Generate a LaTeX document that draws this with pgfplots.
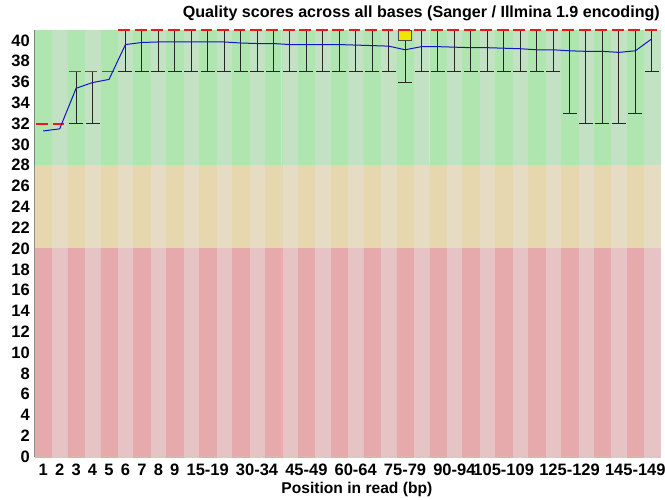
\documentclass[border=0pt]{standalone}
\usepackage{fontspec}
\setmainfont{Liberation Sans}
\usepackage{pgfplots}
\pgfplotsset{compat=1.18}
\definecolor{gd}{RGB}{175,230,175}
\definecolor{gl}{RGB}{195,225,195}
\definecolor{od}{RGB}{230,215,175}
\definecolor{ol}{RGB}{230,220,195}
\definecolor{rd}{RGB}{230,170,172}
\definecolor{rl}{RGB}{230,195,197}
\definecolor{meanblue}{RGB}{20,20,200}
\definecolor{medred}{RGB}{235,25,25}
\definecolor{boxyellow}{RGB}{240,230,0}
\definecolor{axisgray}{RGB}{120,120,120}
\begin{document}
\begin{tikzpicture}
\useasboundingbox (-35bp,-43.3bp) rectangle (630bp,456.7bp);
\begin{axis}[
  scale only axis, width=625bp, height=426.7bp,
  xmin=0.5, xmax=38.5, ymin=0, ymax=41,
  axis lines=left, axis line style={-, draw=axisgray, line width=1.2bp},
  clip=false, unbounded coords=jump,
  major tick length=0pt,
  xtick={1,2,3,4,5,6,7,8,9,11,14,17,20,23,26,29,33,37},
  xticklabels={1,2,3,4,5,6,7,8,9,15-19,30-34,45-49,60-64,75-79,90-94,105-109,125-129,145-149},
  ytick={0,2,...,40},
  /pgf/number format/assume math mode=true,
  ticklabel style={font=\fontsize{16.5bp}{19bp}\selectfont\bfseries},
  yticklabel style={anchor=east, inner sep=0pt, xshift=-5bp},
  xticklabel style={anchor=north, inner sep=0pt, yshift=-7bp},
  title={Quality scores across all bases (Sanger / Illmina 1.9 encoding)},
  title style={at={(axis description cs:1,1)}, anchor=base east, inner sep=0pt, yshift=7bp, font=\fontsize{16.1bp}{19bp}\selectfont\bfseries},
  xlabel={Position in read (bp)},
  xlabel style={at={(axis description cs:0.515,0)}, anchor=base, inner sep=0pt, yshift=-36.5bp, font=\fontsize{15.6bp}{18bp}\selectfont\bfseries},
]
% background stripes
\addplot[ybar, bar width=1, bar shift=0pt, fill=gl, draw=gl, line width=0.4bp] coordinates {(2,41)(4,41)(6,41)(8,41)(10,41)(12,41)(14,41)(16,41)(18,41)(20,41)(22,41)(24,41)(26,41)(28,41)(30,41)(32,41)(34,41)(36,41)(38,41)};
\addplot[ybar, bar width=1, bar shift=0pt, fill=gd, draw=gd, line width=0.4bp] coordinates {(1,41)(3,41)(5,41)(7,41)(9,41)(11,41)(13,41)(15,41)(17,41)(19,41)(21,41)(23,41)(25,41)(27,41)(29,41)(31,41)(33,41)(35,41)(37,41)};
\addplot[ybar, bar width=1, bar shift=0pt, fill=ol, draw=ol, line width=0.4bp] coordinates {(2,28)(4,28)(6,28)(8,28)(10,28)(12,28)(14,28)(16,28)(18,28)(20,28)(22,28)(24,28)(26,28)(28,28)(30,28)(32,28)(34,28)(36,28)(38,28)};
\addplot[ybar, bar width=1, bar shift=0pt, fill=od, draw=od, line width=0.4bp] coordinates {(1,28)(3,28)(5,28)(7,28)(9,28)(11,28)(13,28)(15,28)(17,28)(19,28)(21,28)(23,28)(25,28)(27,28)(29,28)(31,28)(33,28)(35,28)(37,28)};
\addplot[ybar, bar width=1, bar shift=0pt, fill=rl, draw=rl, line width=0.4bp] coordinates {(2,20)(4,20)(6,20)(8,20)(10,20)(12,20)(14,20)(16,20)(18,20)(20,20)(22,20)(24,20)(26,20)(28,20)(30,20)(32,20)(34,20)(36,20)(38,20)};
\addplot[ybar, bar width=1, bar shift=0pt, fill=rd, draw=rd, line width=0.4bp] coordinates {(1,20)(3,20)(5,20)(7,20)(9,20)(11,20)(13,20)(15,20)(17,20)(19,20)(21,20)(23,20)(25,20)(27,20)(29,20)(31,20)(33,20)(35,20)(37,20)};
% whiskers (10th-90th percentile): x, hi, minus
\addplot[draw=none, mark=none, error bars/.cd, y dir=minus, y explicit,
  error mark=|, error mark options={draw=black!85, line width=1bp, mark size=7bp},
  error bar style={draw=black!85, line width=1bp}]
  table[x=x, y=hi, y error minus=em] {
x hi em
3 37 5
4 37 5
6 41 4
7 41 4
8 41 4
9 41 4
10 41 4
11 41 4
12 41 4
13 41 4
14 41 4
15 41 4
16 41 4
17 41 4
18 41 4
19 41 4
20 41 4
21 41 4
22 41 4
23 41 5
24 41 4
25 41 4
26 41 4
27 41 4
28 41 4
29 41 4
30 41 4
31 41 4
32 41 4
33 41 8
34 41 9
35 41 9
36 41 9
37 41 8
38 41 4
};
% inter-quartile box
\addplot[fill=boxyellow, draw=black!70, line width=0.8bp] coordinates {(22.6,40) (23.4,40) (23.4,41) (22.6,41) (22.6,40)};
% medians: one short segment per column
\addplot[medred, line width=1.7bp, mark=none] coordinates {
(0.57,32)(1.29,32)(1.5,nan)(1.57,32)(2.29,32)(2.5,nan)
(2.57,37)(3.29,37)(3.5,nan)(3.57,37)(4.29,37)(4.5,nan)(4.57,37)(5.29,37)(5.5,nan)
(5.57,41)(6.29,41)(6.5,nan)(6.57,41)(7.29,41)(7.5,nan)(7.57,41)(8.29,41)(8.5,nan)
(8.57,41)(9.29,41)(9.5,nan)(9.57,41)(10.29,41)(10.5,nan)(10.57,41)(11.29,41)(11.5,nan)
(11.57,41)(12.29,41)(12.5,nan)(12.57,41)(13.29,41)(13.5,nan)(13.57,41)(14.29,41)(14.5,nan)
(14.57,41)(15.29,41)(15.5,nan)(15.57,41)(16.29,41)(16.5,nan)(16.57,41)(17.29,41)(17.5,nan)
(17.57,41)(18.29,41)(18.5,nan)(18.57,41)(19.29,41)(19.5,nan)(19.57,41)(20.29,41)(20.5,nan)
(20.57,41)(21.29,41)(21.5,nan)(21.57,41)(22.29,41)(22.5,nan)(22.57,41)(23.29,41)(23.5,nan)
(23.57,41)(24.29,41)(24.5,nan)(24.57,41)(25.29,41)(25.5,nan)(25.57,41)(26.29,41)(26.5,nan)
(26.57,41)(27.29,41)(27.5,nan)(27.57,41)(28.29,41)(28.5,nan)(28.57,41)(29.29,41)(29.5,nan)
(29.57,41)(30.29,41)(30.5,nan)(30.57,41)(31.29,41)(31.5,nan)(31.57,41)(32.29,41)(32.5,nan)
(32.57,41)(33.29,41)(33.5,nan)(33.57,41)(34.29,41)(34.5,nan)(34.57,41)(35.29,41)(35.5,nan)
(35.57,41)(36.29,41)(36.5,nan)(36.57,41)(37.29,41)(37.5,nan)(37.57,41)(38.29,41)};
% mean
\addplot[meanblue, line width=1bp, mark=none] coordinates {
(1,31.3)(2,31.5)(3,35.4)(4,35.95)(5,36.25)(6,39.6)(7,39.8)(8,39.85)(9,39.85)(10,39.85)
(11,39.85)(12,39.85)(13,39.75)(14,39.7)(15,39.7)(16,39.6)(17,39.6)(18,39.6)(19,39.6)(20,39.55)
(21,39.5)(22,39.45)(23,39.1)(24,39.4)(25,39.4)(26,39.35)(27,39.3)(28,39.3)(29,39.25)(30,39.2)
(31,39.1)(32,39.1)(33,39.0)(34,38.95)(35,38.95)(36,38.85)(37,39.0)(38,40.15)};
\end{axis}
\end{tikzpicture}
\end{document}
